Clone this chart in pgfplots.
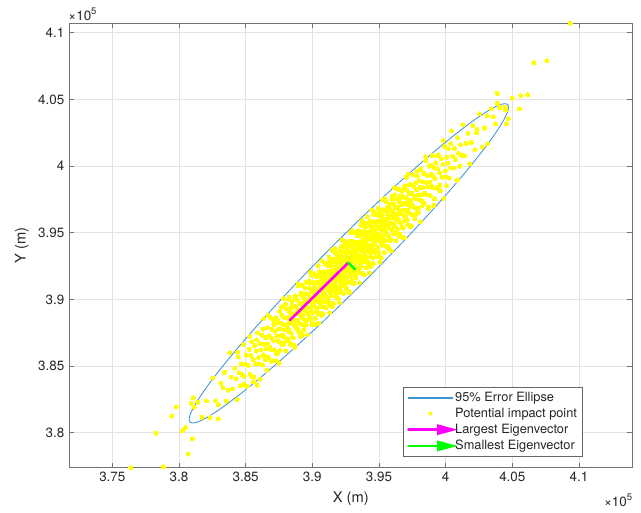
\documentclass[border=0pt]{standalone}
\usepackage{fontspec}
\setmainfont{TeX Gyre Heros}
\usepackage{pgfplots}
\pgfplotsset{compat=1.18}
\usetikzlibrary{arrows.meta}
\definecolor{mblue}{RGB}{0,114,189}
\definecolor{lblue}{RGB}{60,145,210}
\definecolor{axgray}{RGB}{38,38,38}
\definecolor{ptyellow}{RGB}{255,255,0}
\definecolor{evmag}{RGB}{255,0,255}
\definecolor{evgreen}{RGB}{0,255,0}
\begin{document}
\begin{tikzpicture}
\useasboundingbox (0,0) rectangle (641pt,513pt);
\begin{axis}[
  at={(69.3pt,45.3pt)}, anchor=south west,
  scale only axis, width=563pt, height=444.4pt,
  xmin=371775, xmax=414000, ymin=377375, ymax=410705,
  clip mode=individual,
  xtick={375000,380000,...,410000},
  ytick={380000,385000,...,410000},
  scaled x ticks=base 10:-5, scaled y ticks=base 10:-5,
  xtick scale label code/.code={×10\raisebox{0.9ex}{\fontsize{9.5}{10}\selectfont #1}},
  ytick scale label code/.code={×10\raisebox{0.9ex}{\fontsize{9.5}{10}\selectfont #1}},
  every x tick scale label/.style={at={(axis description cs:1,0)}, anchor=north east, yshift=-25pt, inner sep=0pt, font=\fontsize{13.4}{16}\selectfont, text=axgray},
  every y tick scale label/.style={at={(axis description cs:0,1)}, anchor=south west, yshift=2pt, xshift=0.5pt, inner sep=0pt, font=\fontsize{13.4}{16}\selectfont, text=axgray},
  /pgf/number format/assume math mode=true,
  tick label style={font=\fontsize{13.4}{16}\selectfont, text=axgray},
  yticklabel style={xshift=-1.5pt},
  xticklabel style={yshift=-1pt},
  xlabel={X (m)}, ylabel={Y (m)},
  label style={font=\fontsize{14.7}{17}\selectfont, text=axgray},
  xlabel style={at={(axis description cs:0.5,-0.069)}, anchor=center},
  ylabel style={at={(axis description cs:-0.0845,0.5)}, anchor=center},
  grid=major, major grid style={draw=black!11, line width=0.5pt},
  axis line style={draw=black!55, line width=0.6pt},
  tick style={draw=black!55, line width=0.6pt},
  tick align=inside, major tick length=5pt,
  xtick pos=both, ytick pos=both,
  xticklabel pos=lower, yticklabel pos=left,
  legend style={at={(axis description cs:0.912,0.0247)}, anchor=south east,
    draw=black!60, line width=0.5pt, fill=white,
    font=\fontsize{12.8}{14}\selectfont, inner xsep=4pt, inner ysep=3.5pt,
    row sep=2.3pt, nodes={inner sep=1.5pt, text=axgray}},
  legend cell align=left,
]
% legend image for the ellipse
\addlegendimage{legend image code/.code={\path[draw=none, fill=none] (0pt,-3pt) rectangle (44pt,3pt); \fill[lblue] (0pt,-0.6pt) rectangle (44pt,0.6pt);}}
\addlegendentry{95\% Error Ellipse}
% 95% error ellipse
\addplot[color=lblue, line width=0.8pt, smooth, forget plot] coordinates {
(391481,393959) (389431,391871) (387482,389808) (385692,387833) (384117,386006)
(382803,384382) (381791,383011) (381113,381935) (380787,381185) (380825,380785)
(381225,380747) (381975,381073) (383051,381751) (384422,382763) (386046,384077)
(387873,385652) (389848,387442) (391911,389391) (393999,391441) (396049,393529)
(397998,395592) (399788,397567) (401363,399394) (402677,401018) (403689,402390)
(404367,403465) (404693,404215) (404655,404615) (404255,404653) (403505,404327)
(402429,403649) (401058,402637) (399434,401323) (397607,399748) (395632,397958)
(393569,396009) (391481,393959)
};
% potential impact points
\addplot[only marks, color=ptyellow, mark=*, mark size=2pt, mark options={draw=ptyellow, fill=ptyellow, line width=0pt},
  legend image code/.code={\path[draw=none, fill=none] (0pt,-3pt) rectangle (44pt,3pt); \fill[ptyellow, draw=none] (22pt,0pt) circle (2pt);}] table {
x y
380490 380410
380990 379530
381410 382285
381740 381165
382070 382390
382340 381140
382540 384100
382740 382420
382940 382090
383140 383715
383300 383375
383430 384530
383550 382370
383680 383200
383800 386010
383930 384170
384050 383300
384180 384850
384280 384045
384360 382480
384440 385675
384510 384510
384590 383530
384660 385155
384740 384340
384820 386620
384890 384235
384970 385125
385050 385820
385120 383480
385200 385045
385270 386250
385330 384375
385390 385790
385450 386830
385510 384195
385560 385480
385620 384160
385680 386555
385740 385165
385800 386120
385860 383570
385920 387480
385970 385650
386030 385180
386090 386665
386150 386225
386210 387310
386260 385080
386310 385830
386350 388560
386400 386640
386440 385690
386490 387160
386530 386295
386580 384700
386620 387855
386670 386670
386710 385650
386760 387255
386800 386400
386850 388650
386890 386235
386940 387095
386990 387760
387030 385390
387080 386925
387120 388100
387170 386215
387210 387610
387260 388640
387290 385975
387330 387250
387370 385910
387400 388275
387440 386865
387470 387790
387510 385220
387550 389110
387580 387260
387620 386770
387650 388225
387690 387765
387720 388820
387760 386580
387790 387310
387830 390040
387870 388110
387900 387150
387940 388610
387970 387735
388010 386130
388050 389285
388080 388080
388120 387060
388150 388645
388190 387790
388220 390020
388250 387595
388280 388435
388310 389080
388340 386700
388370 388215
388400 389380
388430 387475
388460 388860
388490 389870
388510 387195
388540 388460
388570 387110
388600 389475
388630 388055
388660 388980
388690 386400
388720 390280
388750 388430
388780 387930
388810 389385
388840 388915
388870 389970
388900 387720
388920 388440
388950 391160
388980 389220
389010 388260
389040 389710
389070 388835
389100 387220
389130 390365
389160 389160
389190 388130
389210 389705
389240 388840
389250 391050
389280 388625
389300 389455
389330 390100
389350 387710
389370 389215
389400 390380
389420 388465
389450 389850
389470 390850
389500 388185
389520 389440
389540 388080
389570 390445
389590 389015
389620 389940
389640 387350
389670 391230
389690 389370
389710 388860
389740 390315
389760 389835
389790 390890
389810 388630
389840 389360
389860 392070
389880 390120
389910 389160
389930 390600
389960 389725
389980 388100
390010 391245
390030 390030
390050 388990
390080 390575
390100 389700
390130 391930
390150 389495
390180 390335
390200 390970
390230 388590
390250 390095
390270 391250
390300 389345
390320 390720
390340 391720
390360 389045
390380 390300
390410 388950
390430 391305
390450 389875
390470 390790
390490 388200
390520 392080
390540 390220
390560 389710
390580 391155
390610 390685
390630 391730
390650 389470
390670 390190
390690 392900
390720 390960
390740 389990
390760 391430
390780 390545
390810 388930
390830 392065
390850 390850
390870 389810
390890 391385
390920 390520
390940 392740
390960 390305
390980 391135
391000 391770
391030 389390
391050 390895
391070 392050
391090 390135
391120 391520
391140 392520
391160 389845
391180 391100
391200 389740
391230 392105
391250 390675
391270 391590
391290 389000
391310 392870
391330 391010
391350 390500
391380 391955
391400 391475
391420 392520
391440 390260
391460 390980
391480 393690
391500 391740
391520 390770
391540 392210
391560 391325
391580 389700
391600 392835
391620 391620
391650 390590
391670 392165
391690 391290
391710 393510
391730 391075
391750 391905
391770 392540
391790 390150
391810 391655
391830 392810
391850 390895
391870 392270
391900 393280
391920 390605
391940 391860
391960 390500
391980 392855
392000 391425
392020 392340
392040 389750
392060 393620
392080 391760
392100 391250
392120 392695
392150 392225
392170 393270
392190 391010
392210 391730
392230 394440
392250 392490
392270 391520
392290 392960
392310 392075
392330 390450
392350 393585
392370 392370
392390 391330
392410 392905
392430 392030
392450 394250
392470 391815
392490 392645
392510 393280
392530 390890
392550 392395
392580 393560
392600 391645
392620 393020
392640 394020
392660 391345
392680 392600
392700 391240
392720 393595
392740 392165
392760 393080
392780 390490
392800 394360
392820 392500
392840 391990
392860 393435
392880 392955
392900 394000
392920 391740
392940 392460
392960 395170
392980 393220
393000 392250
393020 393690
393040 392805
393060 391180
393080 394315
393110 393110
393130 392070
393150 393645
393170 392770
393190 394990
393210 392555
393230 393385
393250 394020
393270 391630
393290 393135
393310 394290
393330 392375
393350 393750
393380 394760
393400 392085
393420 393340
393440 391980
393460 394335
393480 392905
393500 393820
393520 391230
393540 395100
393560 393240
393580 392730
393600 394175
393620 393695
393650 394750
393670 392490
393690 393210
393710 395920
393730 393970
393750 393000
393770 394440
393790 393555
393810 391930
393830 395065
393850 393850
393870 392810
393900 394395
393920 393520
393940 395740
393960 393305
393980 394135
394000 394770
394020 392380
394040 393885
394060 395040
394080 393125
394100 394500
394120 395500
394150 392835
394170 394090
394190 392730
394210 395085
394230 393655
394250 394570
394270 391980
394300 395860
394320 394000
394340 393490
394360 394935
394380 394455
394410 395510
394430 393250
394450 393970
394470 396680
394490 394730
394520 393770
394540 395210
394560 394325
394580 392700
394610 395845
394630 394630
394650 393590
394670 395165
394690 394290
394720 396520
394740 394085
394760 394915
394780 395550
394810 393170
394830 394675
394850 395830
394870 393915
394890 395290
394920 396300
394940 393625
394960 394880
394980 393520
395000 395875
395030 394455
395050 395370
395070 392780
395090 396650
395120 394800
395140 394290
395160 395735
395180 395255
395200 396300
395230 394050
395250 394770
395280 397490
395300 395540
395330 394580
395350 396020
395370 395135
395400 393520
395420 396655
395450 395450
395470 394410
395500 395995
395520 395120
395540 397340
395570 394915
395590 395745
395620 396390
395640 394000
395670 395515
395690 396670
395710 394755
395740 396140
395760 397140
395790 394475
395810 395730
395840 394380
395860 396735
395880 395305
395910 396230
395930 393640
395960 397520
395980 395660
396010 395160
396030 396605
396050 396125
396080 397180
396100 394920
396130 395650
396150 398360
396180 396420
396200 395450
396230 396900
396250 396015
396280 394400
396310 397545
396340 396340
396370 395310
396400 396895
396430 396030
396460 398260
396490 395835
396510 396665
396540 397310
396570 394930
396600 396445
396630 397610
396660 395705
396690 397090
396720 398100
396750 395435
396780 396700
396810 395350
396840 397715
396870 396295
396900 397220
396920 394630
396950 398510
396980 396660
397010 396160
397040 397615
397070 397145
397100 398200
397130 395950
397160 396680
397190 399400
397210 397450
397240 396490
397260 397930
397290 397055
397330 395450
397370 398605
397400 397400
397440 396380
397470 397965
397510 397110
397550 399350
397580 396925
397620 397775
397650 398420
397690 396050
397720 397565
397760 398740
397790 396835
397830 398230
397870 399250
397900 396585
397940 397860
397970 396510
398010 398885
398050 397475
398080 398400
398120 395830
398150 399710
398190 397870
398220 397370
398260 398835
398310 398385
398350 399450
398400 397220
398440 397960
398490 400700
398530 398770
398580 397830
398620 399290
398670 398435
398710 396830
398760 399995
398800 398800
398850 397790
398890 399385
398940 398540
398990 400790
399030 398375
399080 399235
399120 399890
399170 397530
399210 399055
399270 400250
399330 398375
399390 399790
399450 400830
399510 398195
399560 399480
399620 398160
399680 400555
399740 399165
399800 400120
399860 397570
399920 401480
399970 399650
400030 399180
400090 400665
400150 400225
400210 401310
400280 399100
400360 399880
400440 402650
400510 400750
400590 399840
400660 401330
400740 400505
400820 398940
400890 402125
400970 400970
401050 399990
401120 401615
401200 400800
401300 403100
401430 400775
401550 401705
401680 402450
401800 400160
401930 401775
402050 403030
402180 401225
402340 402740
402540 403920
402740 401425
402940 402860
403140 401680
403410 404285
403740 403165
404070 404390
404490 404190
404990 405100
384390 386040
384890 383640
385320 387220
385570 383820
385820 386970
386070 384020
386300 387750
386500 385500
386700 388800
386900 385350
387100 388400
387280 385380
387420 388420
387570 386170
387710 389460
387850 386700
387990 389640
388140 386890
388270 390170
388380 386630
388490 389640
388600 386550
388710 390160
388830 387830
388940 391040
389050 387500
389160 390460
389270 387370
389360 390360
389450 388050
389540 391290
389640 388490
389730 391380
389820 388570
389910 391810
390000 388250
390090 391240
390180 388130
390270 391720
390350 389350
390440 392540
390520 388970
390600 391900
390690 388790
390770 391770
390850 389450
390940 392690
391020 389870
391100 392750
391190 389940
391260 393160
391340 389590
391420 392570
391490 389440
391570 393020
391650 390650
391720 393820
391800 390250
391880 393180
391950 390050
392030 393030
392110 390710
392180 393930
392260 391110
392330 393980
392400 391150
392470 394370
392540 390790
392620 393770
392690 390640
392760 394210
392830 391830
392900 395000
392970 391420
393040 394340
393110 391210
393180 394180
393260 391860
393340 395090
393420 392270
393490 395140
393570 392320
393650 395550
393720 391970
393800 394950
393880 391830
393950 395400
394030 393030
394110 396210
394180 392630
394270 395570
394350 392450
394440 395440
394520 393120
394600 396350
394690 393540
394770 396420
394850 393600
394940 396840
395020 393270
395100 396250
395190 393140
395270 396720
395360 394360
395450 397550
395540 393990
395640 396940
395730 393830
395820 396820
395910 394510
396000 397750
396090 394940
396180 397830
396270 395020
396380 398280
396490 394740
396600 397750
396710 394660
396830 398280
396940 395940
397050 399150
397160 395610
397280 398580
397420 395520
397570 398570
397710 396310
397850 399600
397990 396840
398140 399790
398300 397050
398500 400400
398700 396950
398900 400050
399100 397050
399320 400770
399570 398570
399820 401920
400070 398520
400390 401690
400890 398990
376400 377375
378825 377450
380700 378400
378280 379955
380250 380130
379455 381250
379800 381930
382950 381030
381075 382625
380905 382205
381130 381905
409330 410705
406605 407750
407600 407900
405650 405275
406155 405350
404475 404405
405525 404280
404700 403530
403875 405455
403875 404705
404550 403175
403125 403775
403575 403680
402878 402830
402330 402500
};
\addlegendentry{Potential impact point}
% eigenvectors
\addplot[evmag, line width=2.6pt, line cap=round,
  legend image code/.code={\draw[evmag, line width=2.6pt] (0pt,0pt) -- (32pt,0pt); \fill[evmag] (30pt,3.8pt) -- (44pt,0pt) -- (30pt,-3.8pt) -- cycle;}] coordinates {(392700,392750) (388330,388450)};
\addlegendentry{Largest Eigenvector}
\addplot[evgreen, line width=2.6pt, line cap=round,
  legend image code/.code={\draw[evgreen, line width=2.6pt] (0pt,0pt) -- (32pt,0pt); \fill[evgreen] (30pt,3.8pt) -- (44pt,0pt) -- (30pt,-3.8pt) -- cycle;}] coordinates {(392700,392750) (393200,392255)};
\addlegendentry{Smallest Eigenvector}
\end{axis}
\end{tikzpicture}
\end{document}
